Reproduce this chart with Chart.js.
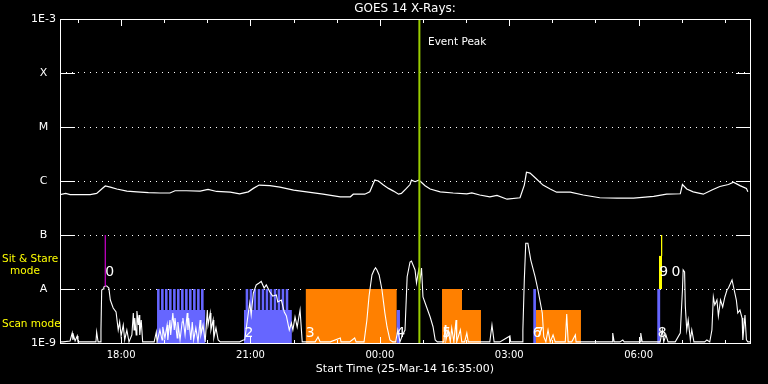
<!DOCTYPE html>
<html><head><meta charset="utf-8">
<script src="https://cdn.jsdelivr.net/npm/chart.js@4.4.1/dist/chart.umd.min.js"></script>
<style>html,body{margin:0;padding:0;background:#000;overflow:hidden}canvas{display:block}</style>
</head><body>
<canvas id="c" width="768" height="384"></canvas>
<script>
// ---- texts ----
const titleText = 'GOES 14 X-Rays:';
const xTitleText = 'Start Time (25-Mar-14 16:35:00)';
// ---- axes (x in minutes after 16:35) ----
const xTickMinutes = [85, 265, 445, 625, 805];
const xTickLabels = ['18:00', '21:00', '00:00', '03:00', '06:00'];
const xMinorMinutes = [25, 85, 145, 205, 265, 325, 385, 445, 505, 565, 625, 685, 745, 805, 865, 925];
const yTickValues = [1e-9, 1e-8, 1e-7, 1e-6, 1e-5, 1e-4, 1e-3];
const yTickLabels = ['1E-9', 'A', 'B', 'C', 'M', 'X', '1E-3'];
// ---- GOES long channel ----
const goesT = [0, 8, 14, 28, 42, 51, 58, 63, 70, 79, 93, 107, 123, 139, 153, 160, 176, 195, 206, 218, 237, 250, 262, 269, 277, 292, 306, 325, 343, 366, 390, 404, 408, 424, 431, 438, 443, 450, 457, 464, 471, 475, 482, 487, 489, 494, 499, 502, 508, 515, 529, 547, 566, 573, 584, 598, 608, 622, 640, 646, 649, 654, 663, 672, 682, 691, 710, 728, 751, 775, 798, 826, 844, 863, 866, 872, 881, 895, 907, 918, 930, 937, 946, 955, 957];
const goesV = [5.6e-7, 5.9e-7, 5.6e-7, 5.6e-7, 5.6e-7, 5.9e-7, 7.1e-7, 8.1e-7, 7.7e-7, 7.1e-7, 6.5e-7, 6.3e-7, 6.1e-7, 6.0e-7, 6.0e-7, 6.6e-7, 6.6e-7, 6.5e-7, 7.0e-7, 6.4e-7, 6.2e-7, 5.8e-7, 6.3e-7, 7.3e-7, 8.4e-7, 8.2e-7, 7.7e-7, 6.8e-7, 6.3e-7, 5.7e-7, 5.1e-7, 5.1e-7, 5.7e-7, 5.7e-7, 6.3e-7, 1.04e-6, 1.0e-6, 8.4e-7, 7.3e-7, 6.5e-7, 5.7e-7, 5.9e-7, 7.3e-7, 8.6e-7, 1.04e-6, 9.7e-7, 1.04e-6, 9.7e-7, 8.2e-7, 7.1e-7, 6.3e-7, 6.0e-7, 5.8e-7, 6.0e-7, 5.5e-7, 5.1e-7, 5.4e-7, 4.6e-7, 4.9e-7, 8.4e-7, 1.45e-6, 1.4e-6, 1.09e-6, 8.4e-7, 7.1e-7, 6.2e-7, 6.2e-7, 5.5e-7, 4.9e-7, 4.8e-7, 4.8e-7, 5.2e-7, 5.7e-7, 5.8e-7, 8.6e-7, 7.1e-7, 6.3e-7, 5.7e-7, 6.8e-7, 7.9e-7, 8.6e-7, 9.5e-7, 8.2e-7, 7.3e-7, 6.3e-7];
// ---- low curve ----
const lowT = [0, 4, 14, 17, 18, 19, 21, 24, 25, 35, 50, 51, 53, 56, 57, 58, 60, 61, 63, 65, 68, 70, 74, 78, 81, 83, 85, 88, 90, 93, 96, 100, 102, 103, 104, 106, 107, 109, 110, 111, 113, 115, 118, 125, 131, 134, 135, 136, 139, 142, 143, 146, 149, 150, 153, 154, 157, 159, 160, 163, 164, 167, 170, 171, 174, 177, 178, 179, 182, 184, 186, 189, 192, 195, 196, 199, 202, 205, 206, 209, 210, 213, 214, 217, 220, 223, 237, 250, 255, 257, 262, 264, 266, 269, 273, 277, 280, 284, 287, 292, 296, 301, 303, 308, 312, 315, 319, 322, 324, 327, 330, 334, 337, 348, 355, 359, 362, 376, 390, 391, 403, 410, 412, 423, 427, 430, 434, 437, 439, 441, 444, 448, 452, 455, 459, 463, 467, 470, 473, 476, 480, 483, 487, 489, 494, 496, 499, 501, 503, 505, 510, 515, 519, 522, 525, 529, 534, 536, 537, 540, 543, 545, 548, 551, 552, 557, 559, 563, 566, 568, 573, 598, 601, 604, 612, 626, 627, 640, 643, 644, 646, 648, 651, 655, 661, 665, 671, 673, 676, 679, 682, 686, 689, 696, 703, 705, 707, 712, 717, 718, 723, 751, 768, 769, 771, 779, 783, 785, 807, 808, 810, 824, 835, 838, 840, 843, 846, 856, 863, 866, 867, 869, 870, 872, 874, 877, 879, 882, 897, 900, 904, 907, 909, 911, 914, 916, 919, 922, 925, 928, 930, 935, 938, 941, 943, 946, 949, 950, 953, 955, 957, 960];
const lowV = [1.05e-9, 1.05e-9, 1.09e-9, 1.53e-9, 1.14e-9, 1.35e-9, 1.09e-9, 1.35e-9, 1.05e-9, 1.05e-9, 1.05e-9, 1.6e-9, 1.05e-9, 1.05e-9, 1.74e-9, 9.58e-9, 1.0e-8, 1.09e-8, 1.14e-8, 1.14e-8, 1.04e-8, 6.25e-9, 4.45e-9, 3.75e-9, 1.74e-9, 2.45e-9, 1.35e-9, 2.15e-9, 1.14e-9, 1.74e-9, 1.05e-9, 1.41e-9, 3.59e-9, 1.74e-9, 2.9e-9, 1.41e-9, 3.91e-9, 2.15e-9, 3.3e-9, 1.41e-9, 2.67e-9, 1.05e-9, 1.05e-9, 1.05e-9, 1.05e-9, 1.6e-9, 1.05e-9, 1.05e-9, 1.74e-9, 1.14e-9, 1.98e-9, 1.24e-9, 2.15e-9, 1.14e-9, 2.67e-9, 1.41e-9, 3.59e-9, 1.74e-9, 2.9e-9, 1.24e-9, 2.45e-9, 1.14e-9, 2.45e-9, 2.9e-9, 1.41e-9, 3.59e-9, 1.74e-9, 2.9e-9, 1.14e-9, 2.45e-9, 1.14e-9, 1.9e-9, 1.05e-9, 2.67e-9, 1.41e-9, 2.15e-9, 1.05e-9, 4.08e-9, 2.15e-9, 3.59e-9, 1.74e-9, 2.67e-9, 1.24e-9, 1.9e-9, 1.14e-9, 1.05e-9, 1.05e-9, 1.05e-9, 1.14e-9, 1.14e-9, 3.59e-9, 5.51e-9, 3.3e-9, 8.43e-9, 1.19e-8, 1.29e-8, 1.38e-8, 1.04e-8, 1.19e-8, 8.8e-9, 7.42e-9, 7.74e-9, 5.74e-9, 6.25e-9, 3.75e-9, 3.16e-9, 1.74e-9, 2.34e-9, 1.74e-9, 3.03e-9, 1.98e-9, 4.08e-9, 1.05e-9, 1.05e-9, 1.05e-9, 1.29e-9, 1.05e-9, 1.05e-9, 1.24e-9, 1.05e-9, 1.05e-9, 1.24e-9, 1.05e-9, 1.05e-9, 2.67e-9, 7.42e-9, 1.82e-8, 2.25e-8, 2.48e-8, 2.25e-8, 1.82e-8, 9.58e-9, 3.59e-9, 1.98e-9, 1.14e-9, 1.05e-9, 1.05e-9, 1.74e-9, 1.05e-9, 1.35e-9, 1.74e-9, 1.69e-8, 3.16e-8, 3.3e-8, 2.25e-8, 1.29e-8, 2.25e-8, 1.47e-8, 2.45e-8, 7.11e-9, 4.64e-9, 3.03e-9, 2.0e-9, 1.14e-9, 1.05e-9, 1.05e-9, 1.05e-9, 2.15e-9, 1.14e-9, 1.74e-9, 1.05e-9, 1.9e-9, 1.05e-9, 2.67e-9, 1.05e-9, 1.74e-9, 1.05e-9, 1.05e-9, 1.53e-9, 1.05e-9, 1.05e-9, 1.05e-9, 2.15e-9, 1.05e-9, 1.05e-9, 1.35e-9, 1.05e-9, 1.05e-9, 1.05e-9, 1.74e-9, 1.47e-8, 7.02e-8, 7.02e-8, 3.44e-8, 1.69e-8, 9.58e-9, 3.59e-9, 1.31e-9, 1.05e-9, 1.74e-9, 1.05e-9, 1.41e-9, 1.05e-9, 1.05e-9, 1.05e-9, 3.44e-9, 1.05e-9, 1.05e-9, 1.41e-9, 1.05e-9, 1.05e-9, 1.05e-9, 1.05e-9, 1.53e-9, 1.05e-9, 1.05e-9, 1.14e-9, 1.05e-9, 1.05e-9, 1.53e-9, 1.05e-9, 1.05e-9, 1.05e-9, 1.74e-9, 1.05e-9, 1.41e-9, 1.05e-9, 1.05e-9, 1.53e-9, 9.58e-9, 2.25e-8, 2.06e-8, 4.84e-9, 1.74e-9, 2.67e-9, 1.14e-9, 1.74e-9, 1.05e-9, 1.05e-9, 1.14e-9, 1.05e-9, 1.74e-9, 7.11e-9, 5.06e-9, 6.25e-9, 3.16e-9, 6.25e-9, 4.64e-9, 7.11e-9, 9.58e-9, 1.04e-8, 1.47e-8, 9.58e-9, 6.25e-9, 3.59e-9, 4.08e-9, 2.9e-9, 1.14e-9, 3.3e-9, 1.14e-9, 1.05e-9, 1.05e-9];
// ---- instrument mode bars (stepped: value holds until next time) ----
const blueT = [0, 135, 138.6, 140.6, 144.2, 146.1, 149.7, 151.7, 155.3, 157.3, 160.9, 162.8, 166.4, 168.4, 172.0, 174.0, 177.6, 179.5, 183.1, 185.1, 188.7, 190.7, 194.3, 196.2, 199.8, 202, 256, 258.3, 261.9, 263.9, 267.5, 269.4, 273.0, 275.0, 278.6, 280.6, 284.2, 286.1, 289.7, 291.7, 295.3, 297.3, 300.9, 302.8, 306.4, 308.4, 312.0, 314.0, 317.6, 322.5, 468.4, 473, 658.5, 662.2, 831, 835, 960];
const blueV = [1e-9, 1e-8, 4.1e-9, 1e-8, 4.1e-9, 1e-8, 4.1e-9, 1e-8, 4.1e-9, 1e-8, 4.1e-9, 1e-8, 4.1e-9, 1e-8, 4.1e-9, 1e-8, 4.1e-9, 1e-8, 4.1e-9, 1e-8, 4.1e-9, 1e-8, 4.1e-9, 1e-8, 4.1e-9, 1e-9, 4.1e-9, 1e-8, 4.1e-9, 1e-8, 4.1e-9, 1e-8, 4.1e-9, 1e-8, 4.1e-9, 1e-8, 4.1e-9, 1e-8, 4.1e-9, 1e-8, 4.1e-9, 1e-8, 4.1e-9, 1e-8, 4.1e-9, 1e-8, 4.1e-9, 1e-8, 4.1e-9, 1e-9, 4.1e-9, 1e-9, 1e-8, 1e-9, 1e-8, 1e-9, 1e-9];
const orangeT = [0, 342, 468.4, 531.5, 559.3, 585.7, 662.2, 724.8, 960];
const orangeV = [1e-9, 1e-8, 1e-9, 1e-8, 4.1e-9, 1e-9, 4.1e-9, 1e-9, 1e-9];
// ---- markers ----
const eventPeakT = [500, 500];
const eventPeakV = [1e-9, 1e-3];
const magentaT = [63, 63];
const magentaV = [1e-7, 1.1e-8];
const yellowThinT = [837, 837];
const yellowThinV = [1e-7, 4.1e-8];
const yellowBarT = [835.5, 835.5];
const yellowBarV = [1e-8, 4.1e-8];
const numLabels = ['0', '2', '3', '4', '5', '6', '7', '8', '9', '0'];
const numT = [69, 263, 348, 474, 538, 664, 667, 838, 840, 857];
const numV = [2.06e-8, 1.53e-9, 1.53e-9, 1.53e-9, 1.53e-9, 1.53e-9, 1.53e-9, 1.53e-9, 2.06e-8, 2.06e-8];
const eventLabel = 'Event Peak';
const eventLabelT = 512;
const eventLabelV = 3.7e-4;

const pts = (T, V) => T.map((t, i) => ({x: t, y: V[i]}));
Chart.defaults.font.family = 'DejaVu Sans';

const framePlugin = {
  id: 'frame',
  beforeDraw(chart) {
    const c = chart.ctx; c.save(); c.fillStyle = '#000'; c.fillRect(0, 0, chart.width, chart.height); c.restore();
  },
  afterDatasetsDraw(chart) {
    const {ctx, scales: {x, y}} = chart;
    ctx.save();
    ctx.fillStyle = '#fff';
    ctx.textAlign = 'center'; ctx.textBaseline = 'middle';
    ctx.font = '14px "DejaVu Sans"';
    numLabels.forEach((s, i) => ctx.fillText(s, x.getPixelForValue(numT[i]), y.getPixelForValue(numV[i])));
    ctx.textAlign = 'left';
    ctx.font = '10.5px "DejaVu Sans"';
    ctx.fillText(eventLabel, x.getPixelForValue(eventLabelT), y.getPixelForValue(eventLabelV));
    ctx.restore();
  },
  afterDraw(chart) {
    const {ctx, chartArea: {left, right, top, bottom}, scales: {x, y}} = chart;
    ctx.save();
    ctx.strokeStyle = '#fff'; ctx.lineWidth = 1;
    ctx.strokeRect(left + 0.5, top + 0.5, right - left, bottom - top);
    ctx.beginPath();
    yTickValues.slice(1, -1).forEach(v => {
      const py = Math.round(y.getPixelForValue(v)) + 0.5;
      ctx.moveTo(left, py); ctx.lineTo(left + 15, py);
      ctx.moveTo(right - 14, py); ctx.lineTo(right + 1, py);
    });
    xMinorMinutes.forEach(m => {
      const px = Math.round(x.getPixelForValue(m)) + 0.5;
      const len = xTickMinutes.includes(m) ? 7 : 4;
      ctx.moveTo(px, top); ctx.lineTo(px, top + len);
      ctx.moveTo(px, bottom + 1); ctx.lineTo(px, bottom + 1 - len);
    });
    ctx.stroke();
    ctx.fillStyle = '#ffff00';
    ctx.font = '10.5px "DejaVu Sans"';
    ctx.textBaseline = 'middle'; ctx.textAlign = 'left';
    ctx.fillText('Sit & Stare', 2, 259);
    ctx.textAlign = 'center';
    ctx.fillText('mode', 25, 271);
    ctx.textAlign = 'left';
    ctx.fillText('Scan mode', 2, 324);
    ctx.restore();
  }
};

const lineDs = (data, color, w, extra) => Object.assign({data, borderColor: color, borderWidth: w, pointRadius: 0, tension: 0, fill: false}, extra || {});

new Chart(document.getElementById('c'), {
  type: 'line',
  data: {
    datasets: [
      lineDs(pts(eventPeakT, eventPeakV), '#99cc00', 2),
      lineDs(pts(yellowBarT, yellowBarV), '#ffff00', 3),
      lineDs(pts(yellowThinT, yellowThinV), '#ffff00', 1),
      lineDs(pts(magentaT, magentaV), '#cc00cc', 1.2),
      lineDs(pts(goesT, goesV), '#ffffff', 1.2),
      lineDs(pts(lowT, lowV), '#ffffff', 1.1),
      lineDs(pts(blueT, blueV), 'rgba(0,0,0,0)', 0, {stepped: true, fill: 'start', backgroundColor: '#6666ff'}),
      lineDs(pts(orangeT, orangeV), 'rgba(0,0,0,0)', 0, {stepped: true, fill: 'start', backgroundColor: '#ff8000'})
    ]
  },
  options: {
    responsive: false, animation: false, devicePixelRatio: 1,
    layout: {padding: {left: 0, right: 18, top: 0, bottom: 0}},
    plugins: {
      legend: {display: false}, tooltip: {enabled: false},
      title: {display: true, text: titleText, color: '#fff', fullSize: false,
        font: {family: 'DejaVu Sans', size: 12, weight: 'normal'}, padding: {top: 2.1, bottom: 2.5}}
    },
    scales: {
      x: {
        type: 'linear', min: 0, max: 960,
        afterBuildTicks: s => { s.ticks = xTickMinutes.map(v => ({value: v})); },
        afterFit: s => { s.height = 41; },
        ticks: {color: '#fff', font: {size: 10}, padding: 6, autoSkip: false, maxRotation: 0,
          callback: (v, i) => xTickLabels[i]},
        grid: {display: false, drawTicks: false},
        border: {display: false},
        title: {display: true, text: xTitleText, color: '#fff', font: {size: 11}, padding: {top: 0, bottom: 8.4}}
      },
      y: {
        type: 'logarithmic', min: 1e-9, max: 1e-3,
        afterBuildTicks: s => { s.ticks = yTickValues.map(v => ({value: v})); },
        afterFit: s => { s.width = 60; },
        ticks: {color: '#fff', font: {size: 11}, padding: 4, crossAlign: 'center', autoSkip: false,
          callback: (v, i) => yTickLabels[i]},
        grid: {drawTicks: false, lineWidth: 1,
          color: c => (c.tick && (c.tick.value < 1.5e-9 || c.tick.value > 0.9e-3)) ? 'rgba(0,0,0,0)' : '#ffffff'},
        border: {display: false, dash: [1, 5]}
      }
    }
  },
  plugins: [framePlugin]
});
</script>
</body></html>
